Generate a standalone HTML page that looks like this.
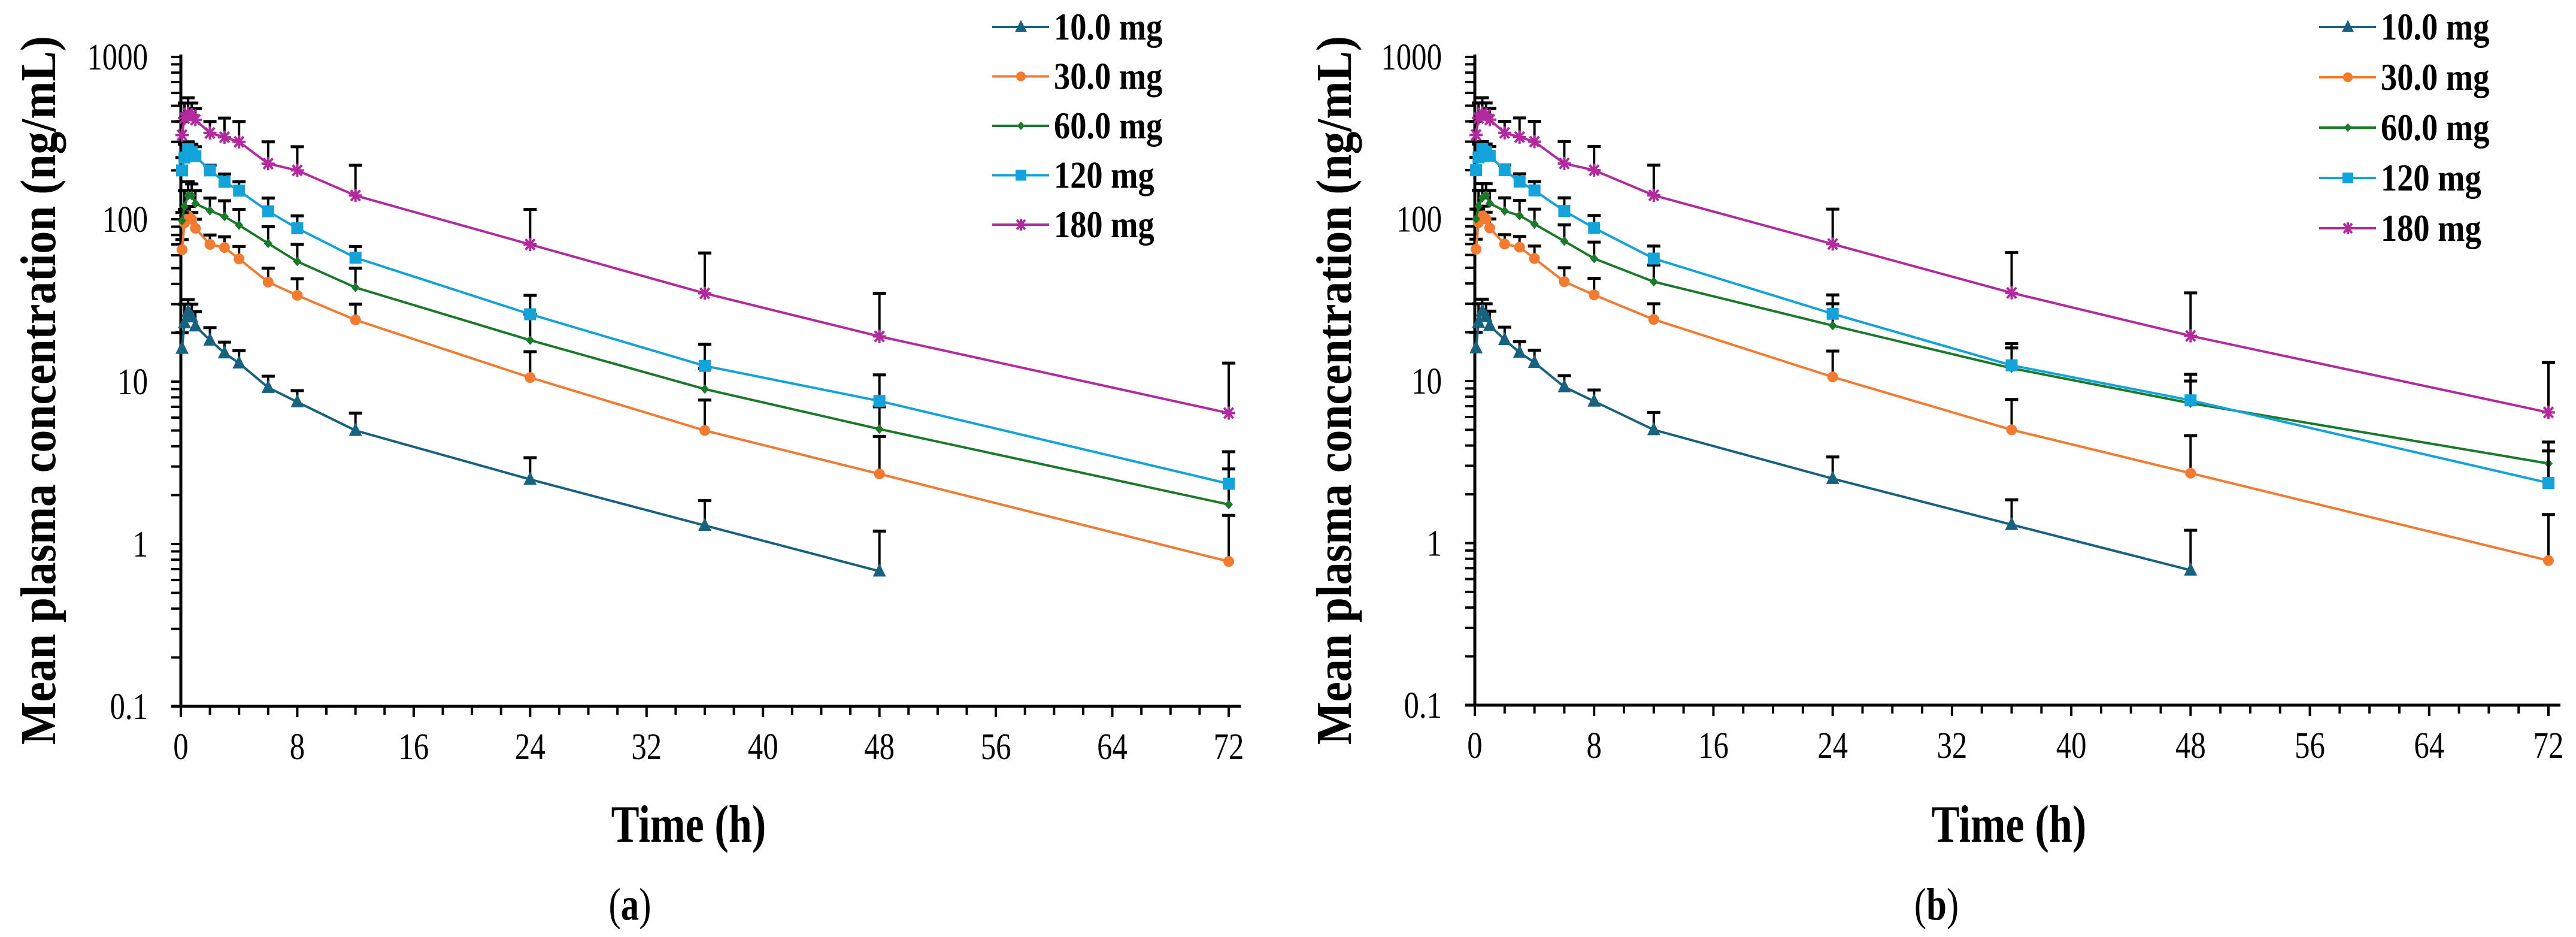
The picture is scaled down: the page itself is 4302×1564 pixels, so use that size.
<!DOCTYPE html>
<html><head><meta charset="utf-8"><style>
html,body{margin:0;padding:0;background:#fff}
svg{display:block}
text{font-family:"Liberation Serif",serif;fill:#000}
</style></head><body>
<svg id="c" width="4302" height="1564" viewBox="0 0 4302 1564" xmlns="http://www.w3.org/2000/svg"></svg>
<script>
const times = [0.083,0.25,0.5,0.75,1,2,3,4,6,8,12,24,36,48,72];
const seriesNames = ["10.0 mg","30.0 mg","60.0 mg","120 mg","180 mg"];
const seriesColors = ["#17627f","#f47a30","#1a7a2a","#12a3da","#b32a9e"];
const a10 = [16,23,27,25,22,18,15,13,9.2,7.5,5.0,2.5,1.3,0.68,null];
const a10sd = [20,30,32,30,27,21.5,17.5,15.5,10.8,8.8,6.4,3.4,1.85,1.2,null];
const a30 = [65,95,105,100,88,70,67,57,41,34,24,10.6,5.0,2.7,0.78];
const a30sd = [75,115,120,110,100,80,78,68,50,43,30,15.3,7.7,4.6,1.5];
const a60 = [98,120,140,140,125,113,104,92,71,55,38,18,9,5.1,1.75];
const a60sd = [110,150,170,165,150,135,130,115,90,70,50,26,12,7,2.9];
const a120 = [200,240,270,260,245,200,170,150,112,88,58,26,12.5,7.6,2.35];
const a120sd = [240,290,300,290,280,215,190,170,135,105,68,34,17,11,3.7];
const a180 = [330,420,450,440,410,340,320,300,220,200,140,70,35,19,6.4];
const a180sd = [400,520,560,520,480,400,420,400,300,280,215,115,62,35,13];
const b10 = a10.slice(), b10sd = a10sd.slice();
const b30 = a30.slice(), b30sd = a30sd.slice();
const b60 = [100,120,135,140,125,112,105,93,73,57,41,22,12,7.3,3.1];
const b60sd = [115,150,165,165,150,135,130,115,92,72,52,30,16,10,4.2];
const b120 = [200,240,270,260,245,200,170,150,112,88,57,26,12.5,7.6,2.35];
const b120sd = [240,290,300,290,280,215,190,170,135,105,68,34,17,11,3.7];
const b180 = [330,420,450,440,410,340,320,300,220,200,140,70,35,19,6.4];
const b180sd = [400,520,560,520,480,400,420,400,300,280,215,115,62,35,13];
const xTicks = [0,8,16,24,32,40,48,56,64,72];
const yTicks = [0.1,1,10,100,1000];
const yTickLabels = ["0.1","1","10","100","1000"];

const NS="http://www.w3.org/2000/svg";
const svg=document.getElementById('c');
function mk(tag,attrs,parent){const e=document.createElementNS(NS,tag);for(const k in attrs)e.setAttribute(k,attrs[k]);(parent||svg).appendChild(e);return e;}
function txt(x,y,size,anchor,bold,parent,sx){
  return mk('text',{transform:`translate(${x},${y}) scale(${sx||0.82},1)`,'font-size':size,'text-anchor':anchor,'font-weight':bold?'bold':'normal'},parent);
}

function drawPanel(P){
  const g=mk('g',{});
  
  
  const X=t=>P.x0+t*(P.x1-P.x0)/72;
  const Y=v=>P.y0-(Math.log10(v)+1)*(P.y0-P.y1)/4;
  const ax=mk('line',{x1:P.x0,y1:P.y1-4,x2:P.x0,y2:P.y0+2,stroke:'#000','stroke-width':5},g);
  
  
  const bx=mk('line',{x1:P.x0-16,y1:P.y0,x2:P.x1+20,y2:P.y0,stroke:'#000','stroke-width':5},g);
  
  
  for(let t=0;t<=72;t+=2){mk('line',{x1:X(t),y1:P.y0,x2:X(t),y2:P.y0+(t%8==0?18:14),stroke:'#000','stroke-width':4},g);}
  for(let d=-1;d<3;d++){for(let m=1;m<=10;m++){const v=m*Math.pow(10,d);mk('line',{x1:P.x0-16,y1:Y(v),x2:P.x0,y2:Y(v),stroke:'#000','stroke-width':4},g);}}
  xTicks.forEach(t=>{const e=txt(X(t),P.y0+88,62,'middle',false,g);e.textContent=t;
    
    });
  yTicks.forEach((v,i)=>{const e=txt(P.x0-55,Y(v)+21,62,'end',false,g);e.textContent=yTickLabels[i];
    
    });
  const yt=mk('text',{transform:`translate(${P.ylx},${(P.ylTop+P.ylBot)/2}) rotate(-90)`,'font-size':84,'font-weight':'bold','text-anchor':'middle',textLength:P.ylBot-P.ylTop,lengthAdjust:'spacingAndGlyphs'},g);
  yt.textContent='Mean plasma concentration (ng/mL)';
  
  
  const xt=txt(P.tx,1405,88,'middle',true,g,0.8);
  xt.textContent='Time (h)';
  
  
  const pl=txt(P.lx,1535,76,'middle',false,g,0.8);
  pl.innerHTML='(<tspan font-weight="bold">'+P.letter+'</tspan>)';
  
  
  P.data.forEach((s,si)=>{
    const sg=mk('g',{},g);
    
    
    const col=seriesColors[si];
    s.v.forEach((v,i)=>{if(v==null||s.sd[i]==null)return;
      const x=X(times[i]);
      mk('line',{x1:x,y1:Y(v),x2:x,y2:Y(s.sd[i]),stroke:'#000','stroke-width':4},sg);
      mk('line',{x1:x-11,y1:Y(s.sd[i]),x2:x+11,y2:Y(s.sd[i]),stroke:'#000','stroke-width':5},sg);});
    let d='';s.v.forEach((v,i)=>{if(v==null)return;d+=(d?'L':'M')+X(times[i]).toFixed(1)+','+Y(v).toFixed(1);});
    const ln=mk('path',{d:d,fill:'none',stroke:col,'stroke-width':4},sg);
    
    
    s.v.forEach((v,i)=>{if(v==null)return;const m=marker(si,X(times[i]),Y(v),sg);
      
      });
  });
  seriesNames.forEach((n,i)=>{
    const y=P.legY+i*P.legDy;
    const lg=mk('g',{},g);
    
    
    mk('line',{x1:P.legX,y1:y,x2:P.legX+95,y2:y,stroke:seriesColors[i],'stroke-width':4},lg);
    marker(i,P.legX+48,y,lg,0.9);
    const t=txt(P.legX+103,y+21,64,'start',true,lg,0.85);t.textContent=n;
  });
}
function marker(si,x,y,par,s){
  s=s||1;const col=seriesColors[si];
  if(si==0)return mk('path',{d:`M${x},${y-13*s}L${x+11*s},${y+9*s}L${x-11*s},${y+9*s}Z`,fill:col},par);
  if(si==1)return mk('circle',{cx:x,cy:y,r:9*s,fill:col},par);
  if(si==2)return mk('path',{d:`M${x},${y-8*s}L${x+7*s},${y}L${x},${y+8*s}L${x-7*s},${y}Z`,fill:col},par);
  if(si==3)return mk('rect',{x:x-10*s,y:y-10*s,width:20*s,height:20*s,fill:col},par);
  const r=11*s;return mk('path',{d:`M${x-r},${y}L${x+r},${y}M${x-r*.7},${y-r*.8}L${x+r*.7},${y+r*.8}M${x-r*.7},${y+r*.8}L${x+r*.7},${y-r*.8}M${x},${y-r}L${x},${y+r}`,stroke:col,'stroke-width':4,fill:'none'},par);
}
drawPanel({name:'panel-a',letter:'a',x0:302,x1:2052,y0:1179,y1:95,ylx:92,ylTop:60,ylBot:1243,tx:1150,lx:1052,legX:1657,legY:45,legDy:82.5,
  data:[{v:a10,sd:a10sd},{v:a30,sd:a30sd},{v:a60,sd:a60sd},{v:a120,sd:a120sd},{v:a180,sd:a180sd}]});
drawPanel({name:'panel-b',letter:'b',x0:2463,x1:4256,y0:1177,y1:95,ylx:2256,ylTop:60,ylBot:1243,tx:3355,lx:3234,legX:3873,legY:45,legDy:84,
  data:[{v:b10,sd:b10sd},{v:b30,sd:b30sd},{v:b60,sd:b60sd},{v:b120,sd:b120sd},{v:b180,sd:b180sd}]});
</script>
</body></html>
